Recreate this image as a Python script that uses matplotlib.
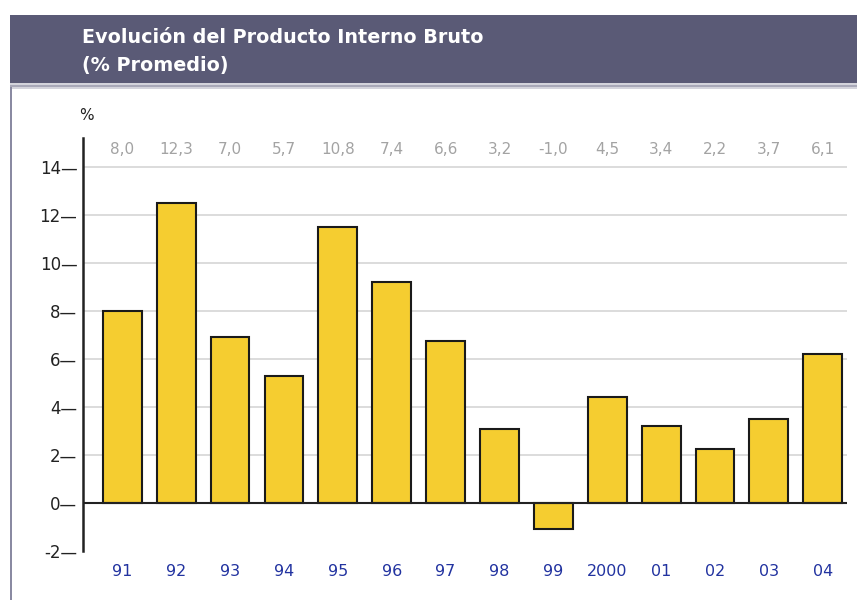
import numpy as np
import matplotlib
matplotlib.use('Agg')
import matplotlib.pyplot as plt
from matplotlib.patches import Rectangle

years = ['91', '92', '93', '94', '95', '96', '97', '98', '99', '2000', '01', '02', '03', '04']
# bar heights as drawn in the picture
values = [8.0, 12.5, 6.9, 5.3, 11.5, 9.2, 6.75, 3.1, -1.1, 4.4, 3.2, 2.25, 3.5, 6.2]
# labels printed above the chart
value_labels = ['8,0', '12,3', '7,0', '5,7', '10,8', '7,4', '6,6', '3,2', '-1,0', '4,5', '3,4', '2,2', '3,7', '6,1']
yticks = [-2, 0, 2, 4, 6, 8, 10, 12, 14]

title = 'Evolución del Producto Interno Bruto\n(% Promedio)'

W, H = 857, 600
fig = plt.figure(figsize=(W / 100, H / 100), dpi=100)
fig.patch.set_facecolor('white')

# header band
fig.patches.append(Rectangle((10 / W, 1 - 83 / H), 1, 68 / H, transform=fig.transFigure,
                             facecolor='#5a5a76', edgecolor='none', zorder=0))
fig.patches.append(Rectangle((10 / W, 1 - 89 / H), 1, 6 / H, transform=fig.transFigure,
                             facecolor='#d4d4dc', edgecolor='none', zorder=0))
fig.patches.append(Rectangle((10 / W, 1 - 87 / H), 1, 2 / H, transform=fig.transFigure,
                             facecolor='#a8a8b8', edgecolor='none', zorder=0))
# left border of the panel
fig.patches.append(Rectangle((10 / W, 0), 2 / W, 1 - 87 / H, transform=fig.transFigure,
                             facecolor='#8a8aa2', edgecolor='none', zorder=0))

fig.text(82 / W, 1 - 28 / H, title, color='white', fontsize=13.8, fontweight='bold',
         va='top', ha='left', linespacing=1.6, family='DejaVu Sans')

# axes: x 83..847 px, y=14 at 167 px, y=-2 at 551 px
x0, x1 = 83, 847
ax = fig.add_axes([x0 / W, 1 - 551 / H, (x1 - x0) / W, (551 - 167) / H * 17.2 / 16])
ax.set_ylim(-2, 15.2)
pos = np.arange(len(years))
ax.set_xlim(-0.73, 13.45)

for v in yticks[1:]:
    ax.axhline(v, color='#d6d6d6', lw=1.2, zorder=0)
ax.axhline(0, color='#222222', lw=1.5, zorder=3)

ax.bar(pos, values, width=0.72, color='#f5cd30', edgecolor='#1a1a1a', linewidth=1.5, zorder=2)

for p, lab in zip(pos, value_labels):
    ax.text(p, 14.75, lab, ha='center', va='center', color='#a3a3a3', fontsize=11)

for p, y in zip(pos, years):
    ax.text(p, -2.85, y, ha='center', va='center', color='#2233a0', fontsize=11.5)

ax.set_yticks(yticks)
ax.set_yticklabels([f'{t}—' for t in yticks], fontsize=12, color='#222222')
ax.tick_params(axis='y', length=0, pad=4)
ax.set_xticks([])
for s in ['top', 'right', 'bottom']:
    ax.spines[s].set_visible(False)
ax.spines['left'].set_color('#222222')
ax.spines['left'].set_linewidth(1.8)
ax.set_facecolor('none')

fig.text(86 / W, 1 - 115 / H, '%', ha='center', va='center', fontsize=11, color='#222222')

fig.savefig('out.png', dpi=100)
